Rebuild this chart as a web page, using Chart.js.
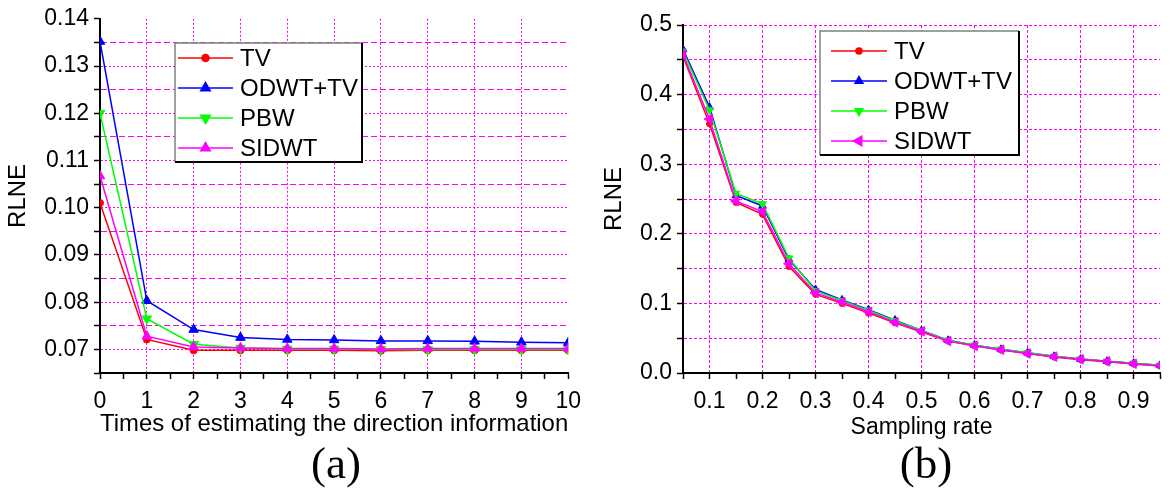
<!DOCTYPE html>
<html>
<head>
<meta charset="utf-8">
<script src="https://cdn.jsdelivr.net/npm/chart.js@4.4.1/dist/chart.umd.min.js"></script>
<style>
  body { margin: 0; background: #fff; }
  #wrap { position: relative; width: 1170px; height: 491px; overflow: hidden; background: #fff; }
  canvas { position: absolute; top: 0; }
  #chart-a { left: 0; }
  #chart-b { left: 590px; }
  .tag { position: absolute; top: 438px; width: 120px; height: 50px; line-height: 50px; text-align: center;
         font-family: 'Liberation Serif', 'Times New Roman', serif; font-size: 45px; color: #000; }
</style>
</head>
<body>
<div id="wrap">
  <canvas id="chart-a" width="590" height="445"></canvas>
  <canvas id="chart-b" width="580" height="445"></canvas>
  <div class="tag" style="left:276px">(a)</div>
  <div class="tag" style="left:866px">(b)</div>
</div>
<script>
const series_names = ['TV', 'ODWT+TV', 'PBW', 'SIDWT'];
const series_colors = ['#ff0000', '#0000ff', '#00ff00', '#ff00ff'];

// (a) RLNE vs times of estimating the direction information
const times = [0, 1, 2, 3, 4, 5, 6, 7, 8, 9, 10];
const tv_a    = [0.1010, 0.0721, 0.0698, 0.0698, 0.0698, 0.0698, 0.0697, 0.0698, 0.0698, 0.0698, 0.0698];
const odwt_a  = [0.1352, 0.0803, 0.0742, 0.0725, 0.0721, 0.0720, 0.0718, 0.0718, 0.0717, 0.0715, 0.0714];
const pbw_a   = [0.1200, 0.0765, 0.0711, 0.0703, 0.0701, 0.0701, 0.0700, 0.0700, 0.0700, 0.0700, 0.0700];
const sidwt_a = [0.1067, 0.0728, 0.0705, 0.0703, 0.0702, 0.0702, 0.0701, 0.0702, 0.0702, 0.0702, 0.0702];
const x_ticks_a = [0, 0.5, 1, 1.5, 2, 2.5, 3, 3.5, 4, 4.5, 5, 5.5, 6, 6.5, 7, 7.5, 8, 8.5, 9, 9.5, 10];
const y_ticks_a = [0.065, 0.07, 0.075, 0.08, 0.085, 0.09, 0.095, 0.10, 0.105, 0.11, 0.115, 0.12, 0.125, 0.13, 0.135, 0.14];

// (b) RLNE vs sampling rate
const rates = [0.05, 0.10, 0.15, 0.20, 0.25, 0.30, 0.35, 0.40, 0.45, 0.50, 0.55, 0.60, 0.65, 0.70, 0.75, 0.80, 0.85, 0.90, 0.95];
const tv_b    = [0.455, 0.358, 0.245, 0.228, 0.153, 0.113, 0.100, 0.086, 0.072, 0.059, 0.046, 0.039, 0.033, 0.028, 0.023, 0.019, 0.016, 0.013, 0.010];
const odwt_b  = [0.465, 0.382, 0.255, 0.240, 0.163, 0.120, 0.105, 0.091, 0.076, 0.061, 0.047, 0.040, 0.034, 0.029, 0.024, 0.020, 0.017, 0.014, 0.011];
const pbw_b   = [0.462, 0.378, 0.258, 0.243, 0.165, 0.118, 0.104, 0.090, 0.075, 0.061, 0.047, 0.040, 0.034, 0.029, 0.024, 0.020, 0.017, 0.014, 0.011];
const sidwt_b = [0.458, 0.365, 0.247, 0.232, 0.157, 0.115, 0.102, 0.088, 0.073, 0.060, 0.046, 0.039, 0.0335, 0.028, 0.0235, 0.0197, 0.0168, 0.0134, 0.0105];
const x_ticks_b = rates;
const y_ticks_b = [0, 0.05, 0.10, 0.15, 0.20, 0.25, 0.30, 0.35, 0.40, 0.45, 0.50];

Chart.defaults.font.family = "'Liberation Sans', Arial, sans-serif";
Chart.defaults.color = '#000';

const NONE = 'rgba(0,0,0,0)';
const GRID = '#ff00ff';

function is_multiple(v, step) {
  return Math.abs(v / step - Math.round(v / step)) < 1e-6;
}

function make_dataset(i, xs, ys, marker, order) {
  return {
    label: series_names[i],
    data: xs.map((x, k) => ({x: x, y: ys[k]})),
    borderColor: series_colors[i],
    backgroundColor: series_colors[i],
    borderWidth: 1.5,
    pointStyle: marker.shape,
    pointRotation: marker.rot,
    pointRadius: marker.r,
    pointBorderWidth: 1,
    order: order
  };
}

// boxed legend drawn inside the plot, line + marker samples
const box_legend = {
  id: 'box_legend',
  afterDraw(chart, args, opts) {
    const ctx = chart.ctx;
    const x = opts.x, y = opts.y, w = opts.w, h = opts.h;
    ctx.save();
    ctx.fillStyle = '#fff';
    ctx.fillRect(x, y, w, h);
    ctx.lineWidth = 1.5;
    ctx.strokeStyle = '#808080';
    ctx.beginPath();
    ctx.moveTo(x, y + h); ctx.lineTo(x, y); ctx.lineTo(x + w, y);
    ctx.stroke();
    ctx.lineWidth = 2;
    ctx.strokeStyle = '#000';
    ctx.beginPath();
    ctx.moveTo(x + w, y); ctx.lineTo(x + w, y + h); ctx.lineTo(x, y + h);
    ctx.stroke();

    chart.data.datasets.forEach((ds, i) => {
      const ry = y + opts.first + i * opts.step;
      ctx.strokeStyle = ds.borderColor;
      ctx.lineWidth = 1.5;
      ctx.beginPath();
      ctx.moveTo(x + opts.line0, ry); ctx.lineTo(x + opts.line1, ry);
      ctx.stroke();
      ctx.fillStyle = ds.backgroundColor;
      Chart.helpers.drawPoint(ctx, {
        pointStyle: ds.pointStyle, rotation: ds.pointRotation,
        radius: ds.pointRadius, borderWidth: 1
      }, x + (opts.line0 + opts.line1) / 2, ry);
      ctx.fillStyle = '#000';
      ctx.font = "24px 'Liberation Sans', Arial, sans-serif";
      ctx.textBaseline = 'middle';
      ctx.textAlign = 'left';
      ctx.fillText(ds.label, x + opts.text, ry + 1);
    });
    ctx.restore();
  }
};

function axis_font(size) {
  return {size: size, family: "'Liberation Sans', Arial, sans-serif"};
}

function make_chart(canvas_id, cfg) {
  const element = document.getElementById(canvas_id).getContext('2d');
  return new Chart(element, {
    type: 'scatter',
    data: {datasets: cfg.datasets},
    plugins: [box_legend],
    options: {
      responsive: false,
      animation: false,
      devicePixelRatio: 1,
      showLine: true,
      layout: {padding: cfg.padding},
      plugins: {
        legend: {display: false},
        tooltip: {enabled: false},
        box_legend: cfg.legend
      },
      scales: {
        x: {
          type: 'linear',
          min: cfg.x_min, max: cfg.x_max,
          afterBuildTicks: s => { s.ticks = cfg.x_ticks.map(v => ({value: v})); },
          afterFit: s => { s.height = cfg.x_height; },
          ticks: {
            autoSkip: false, maxRotation: 0, padding: 9,
            font: axis_font(23),
            callback: v => cfg.x_label(v)
          },
          grid: {
            color: c => cfg.x_grid(c.tick ? c.tick.value : null),
            lineWidth: 1,
            tickColor: '#000', tickLength: 6, tickWidth: 1.5
          },
          border: {color: '#000', width: 2, dash: cfg.x_dash},
          title: {display: true, text: cfg.x_title, font: axis_font(cfg.x_title_size), padding: {top: 0, bottom: cfg.x_title_pad}}
        },
        y: {
          type: 'linear',
          min: cfg.y_min, max: cfg.y_max,
          afterBuildTicks: s => { s.ticks = cfg.y_ticks.map(v => ({value: v})); },
          afterFit: s => { s.width = cfg.y_width; },
          ticks: {
            autoSkip: false, padding: 5,
            font: axis_font(23),
            callback: v => cfg.y_label(v)
          },
          grid: {
            color: c => cfg.y_grid(c.tick ? c.tick.value : null),
            lineWidth: 1,
            tickColor: '#000', tickLength: 6, tickWidth: 1.5
          },
          border: {color: '#000', width: 2, dash: cfg.y_dash},
          title: {display: true, text: 'RLNE', font: axis_font(24), padding: {top: cfg.y_title_pad, bottom: 0}}
        }
      }
    }
  });
}

// chart (a)
make_chart('chart-a', {
  datasets: [
    make_dataset(0, times, tv_a,    {shape: 'circle',   rot: 0,   r: 3.5}, 3),
    make_dataset(1, times, odwt_a,  {shape: 'triangle', rot: 0,   r: 5.5}, 2),
    make_dataset(2, times, pbw_a,   {shape: 'triangle', rot: 180, r: 5.5}, 1),
    make_dataset(3, times, sidwt_a, {shape: 'triangle', rot: 0,   r: 5.5}, 0)
  ],
  padding: {top: 18, right: 12, left: 0, bottom: 0},
  legend: {x: 175, y: 43, w: 187, h: 119, first: 15, step: 30, line0: 3, line1: 58, text: 65},
  x_min: 0, x_max: 10, x_ticks: x_ticks_a, x_height: 72,
  x_label: v => is_multiple(v, 1) ? String(v) : '',
  x_grid: v => (v !== null && is_multiple(v, 1) && v > 0 && v < 10) ? GRID : NONE,
  x_dash: [2, 2],
  x_title: 'Times of estimating the direction information', x_title_size: 24, x_title_pad: 6,
  y_min: 0.065, y_max: 0.14, y_ticks: y_ticks_a, y_width: 100,
  y_label: v => is_multiple(v, 0.01) ? v.toFixed(2) : '',
  y_grid: v => (v !== null && v > 0.066 && v < 0.139) ? GRID : NONE,
  y_dash: c => (c.tick && is_multiple(c.tick.value, 0.01)) ? [2, 2] : [6, 3],
  y_title_pad: 4
});

// chart (b)
make_chart('chart-b', {
  datasets: [
    make_dataset(0, rates, tv_b,    {shape: 'circle',   rot: 0,   r: 3},   3),
    make_dataset(1, rates, odwt_b,  {shape: 'triangle', rot: 0,   r: 4.5}, 2),
    make_dataset(2, rates, pbw_b,   {shape: 'triangle', rot: 180, r: 4.5}, 1),
    make_dataset(3, rates, sidwt_b, {shape: 'triangle', rot: 270, r: 5.5}, 0)
  ],
  padding: {top: 25, right: 10, left: 0, bottom: 0},
  legend: {x: 230, y: 31, w: 199, h: 124, first: 20, step: 30, line0: 11, line1: 67, text: 74},
  x_min: 0.05, x_max: 0.95, x_ticks: x_ticks_b, x_height: 72,
  x_label: v => (is_multiple(v, 0.1) && v > 0.06 && v < 0.94) ? v.toFixed(1) : '',
  x_grid: v => (v !== null && is_multiple(v, 0.1) && v > 0.06 && v < 0.94) ? GRID : NONE,
  x_dash: [3, 2],
  x_title: 'Sampling rate', x_title_size: 23, x_title_pad: 4,
  y_min: 0, y_max: 0.5, y_ticks: y_ticks_b, y_width: 93,
  y_label: v => is_multiple(v, 0.1) ? v.toFixed(1) : '',
  y_grid: v => (v !== null && v > 0.01) ? GRID : NONE,
  y_dash: [3, 2],
  y_title_pad: 10
});
</script>
</body>
</html>
